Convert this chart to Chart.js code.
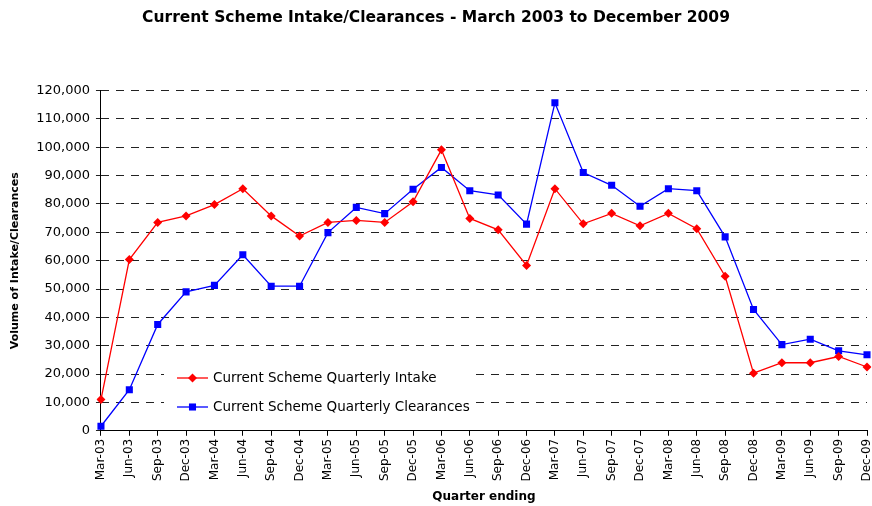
<!DOCTYPE html>
<html>
<head>
<meta charset="utf-8">
<title>Current Scheme Intake/Clearances</title>
<script src="https://cdn.jsdelivr.net/npm/chart.js@4.4.0/dist/chart.umd.min.js"></script>
<style>
  body { margin: 0; background: #fff; }
  #wrap { width: 872px; height: 506px; }
</style>
</head>
<body>
<div id="wrap"><canvas id="chart" width="872" height="506"></canvas></div>
<script>
const quarters = [
  "Mar-03", "Jun-03", "Sep-03", "Dec-03",
  "Mar-04", "Jun-04", "Sep-04", "Dec-04",
  "Mar-05", "Jun-05", "Sep-05", "Dec-05",
  "Mar-06", "Jun-06", "Sep-06", "Dec-06",
  "Mar-07", "Jun-07", "Sep-07", "Dec-07",
  "Mar-08", "Jun-08", "Sep-08", "Dec-08",
  "Mar-09", "Jun-09", "Sep-09", "Dec-09"
];
const intake = [
  11000, 60400, 73500, 75800,
  79800, 85400, 75800, 68700,
  73500, 74200, 73500, 80800,
  99100, 74900, 70900, 58300,
  85400, 73000, 76700, 72300,
  76700, 71300, 54500, 20300,
  24000, 24000, 26200, 22500
];
const clearances = [
  1600, 14500, 37500, 49000,
  51300, 62100, 51000, 51000,
  69900, 78800, 76600, 85200,
  92900, 84700, 83200, 72900,
  115700, 91100, 86600, 79200,
  85400, 84700, 68400, 42800,
  30400, 32300, 28200, 26800
];

const FONT = "'DejaVu Sans', Verdana, sans-serif";

// legend sits inside the plot, bottom left, on a white patch over the grid
const insideLegend = {
  id: "insideLegend",
  beforeDatasetsDraw(chart) {
    const ctx = chart.ctx;
    ctx.save();
    ctx.fillStyle = "#fff";
    ctx.fillRect(164, 364, 308, 54);
    chart.data.datasets.forEach((ds, i) => {
      const y = 378 + i * 29;
      ctx.strokeStyle = ds.borderColor;
      ctx.lineWidth = 1.3;
      ctx.beginPath();
      ctx.moveTo(177, y);
      ctx.lineTo(208, y);
      ctx.stroke();
      ctx.fillStyle = ds.backgroundColor;
      Chart.helpers.drawPoint(ctx, {
        pointStyle: ds.pointStyle,
        radius: ds.pointRadius,
        borderWidth: 0
      }, 192.5, y);
      ctx.fillStyle = "#000";
      ctx.font = "13.5px " + FONT;
      ctx.textBaseline = "middle";
      ctx.fillText(ds.label, 213, y);
    });
    ctx.restore();
  }
};

new Chart(document.getElementById("chart"), {
  type: "line",
  data: {
    labels: quarters,
    datasets: [
      {
        label: "Current Scheme Quarterly Intake",
        data: intake,
        borderColor: "#ff0000",
        backgroundColor: "#ff0000",
        borderWidth: 1.3,
        pointStyle: "rectRot",
        pointRadius: 4.5,
        pointBorderWidth: 0,
        tension: 0
      },
      {
        label: "Current Scheme Quarterly Clearances",
        data: clearances,
        borderColor: "#0000ff",
        backgroundColor: "#0000ff",
        borderWidth: 1.3,
        pointStyle: "rect",
        pointRadius: 5,
        pointBorderWidth: 0,
        tension: 0
      }
    ]
  },
  options: {
    responsive: false,
    animation: false,
    devicePixelRatio: 1,
    layout: { padding: { left: 0, right: 0, top: 0, bottom: 2 } },
    plugins: {
      legend: { display: false },
      tooltip: { enabled: false },
      title: {
        display: true,
        text: "Current Scheme Intake/Clearances - March 2003 to December 2009",
        color: "#000",
        font: { family: FONT, size: 15.5, weight: "bold" },
        padding: { top: 9, bottom: 63 }
      }
    },
    scales: {
      x: {
        offset: false,
        grid: { drawOnChartArea: false, color: "#000", tickLength: 5 },
        border: { color: "#000", width: 1 },
        ticks: {
          color: "#000",
          autoSkip: false,
          minRotation: 90,
          maxRotation: 90,
          font: { family: FONT, size: 12 },
          padding: 3
        },
        title: {
          display: true,
          text: "Quarter ending",
          color: "#000",
          font: { family: FONT, size: 12, weight: "bold" },
          padding: { top: 5, bottom: 0 }
        },
        afterFit(scale) {
          // plot runs almost to the right edge like the original
          scale.paddingRight = 3;
        }
      },
      y: {
        min: 0,
        max: 120000,
        grid: { color: "#222", lineWidth: 1, tickLength: 5 },
        border: { color: "#000", width: 1, dash: [8, 7] },
        ticks: {
          stepSize: 10000,
          color: "#000",
          font: { family: FONT, size: 13 },
          padding: 6
        },
        title: {
          display: true,
          text: "Volume of Intake/Clearances",
          color: "#000",
          font: { family: FONT, size: 11, weight: "bold" },
          padding: { top: 9, bottom: 8 }
        }
      }
    }
  },
  plugins: [insideLegend]
});
</script>
</body>
</html>
